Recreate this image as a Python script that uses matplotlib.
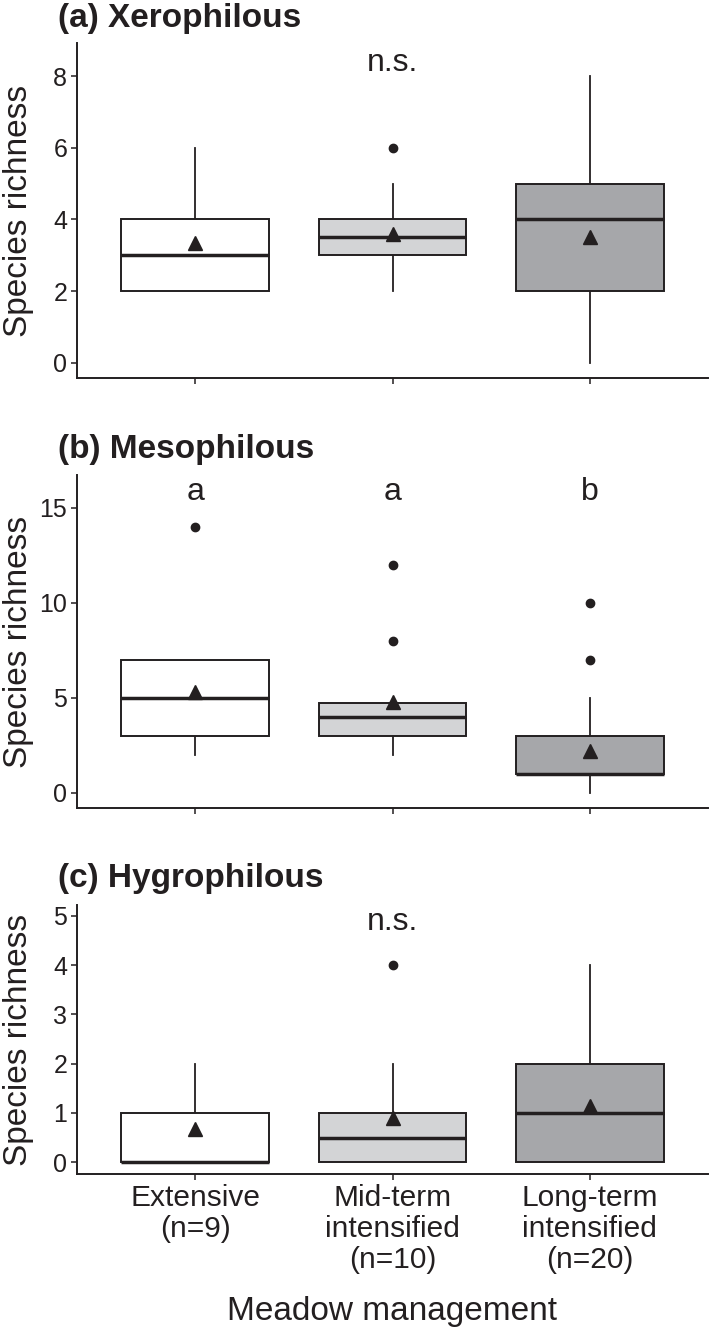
import matplotlib
matplotlib.use('Agg')
import matplotlib.pyplot as plt

plt.rcParams['font.family'] = ['Liberation Sans', 'DejaVu Sans']

# ---- data ----
categories = ['Extensive\n(n=9)', 'Mid-term\nintensified\n(n=10)', 'Long-term\nintensified\n(n=20)']
fills = ['white', '#d3d4d6', '#a6a7aa']

titles = ['(a) Xerophilous', '(b) Mesophilous', '(c) Hygrophilous']

xero_q1 = [2, 3, 2]
xero_med = [3, 3.5, 4]
xero_q3 = [4, 4, 5]
xero_lo = [2, 2, 0]
xero_hi = [6, 5, 8]
xero_mean = [3.33, 3.6, 3.5]
xero_out = [[], [6], []]
xero_letters = ['', 'n.s.', '']
xero_letter_y = 8.37

meso_q1 = [3, 3, 1]
meso_med = [5, 4, 1]
meso_q3 = [7, 4.75, 3]
meso_lo = [2, 2, 0]
meso_hi = [7, 4.75, 5]
meso_mean = [5.33, 4.8, 2.2]
meso_out = [[14], [12, 8], [10, 7]]
meso_letters = ['a', 'a', 'b']
meso_letter_y = 15.8

hygro_q1 = [0, 0, 0]
hygro_med = [0, 0.5, 1]
hygro_q3 = [1, 1, 2]
hygro_lo = [0, 0, 0]
hygro_hi = [2, 2, 4]
hygro_mean = [0.67, 0.9, 1.15]
hygro_out = [[], [4], []]
hygro_letters = ['', 'n.s.', '']
hygro_letter_y = 4.88

ylims = [(-0.43, 8.93), (-0.79, 16.72), (-0.24, 5.22)]
yticks = [[0, 2, 4, 6, 8], [0, 5, 10, 15], [0, 1, 2, 3, 4, 5]]

panels = [
    (xero_q1, xero_med, xero_q3, xero_lo, xero_hi, xero_mean, xero_out, xero_letters, xero_letter_y),
    (meso_q1, meso_med, meso_q3, meso_lo, meso_hi, meso_mean, meso_out, meso_letters, meso_letter_y),
    (hygro_q1, hygro_med, hygro_q3, hygro_lo, hygro_hi, hygro_mean, hygro_out, hygro_letters, hygro_letter_y),
]

ink = '#231f20'
W, H = 720, 1329

# axes boxes in pixels: (top, bottom)
ax_px = [(43, 378), (475, 808), (905, 1174)]
title_base = [27, 458, 887]
left_px, right_px = 77, 708

fig = plt.figure(figsize=(W / 100, H / 100), dpi=100)

for i, (q1, med, q3, lo, hi, mean, out, letters, letter_y) in enumerate(panels):
    top, bot = ax_px[i]
    ax = fig.add_axes([left_px / W, 1 - bot / H, (right_px - left_px) / W, (bot - top) / H])

    stats = []
    for k in range(3):
        stats.append({'q1': q1[k], 'med': med[k], 'q3': q3[k],
                      'whislo': lo[k], 'whishi': hi[k], 'fliers': out[k]})
    bp = ax.bxp(stats, positions=[1, 2, 3], widths=0.75, patch_artist=True,
                showcaps=False, showfliers=True,
                boxprops=dict(edgecolor=ink, linewidth=1.4),
                medianprops=dict(color=ink, linewidth=2.5, solid_capstyle='butt'),
                whiskerprops=dict(color=ink, linewidth=1.3),
                flierprops=dict(marker='o', markersize=6, markerfacecolor=ink,
                                markeredgecolor=ink, linestyle='none'))
    for patch, c in zip(bp['boxes'], fills):
        patch.set_facecolor(c)
    for w in bp['whiskers']:
        w.set_zorder(1)

    ax.plot([1, 2, 3], mean, linestyle='none', marker='^', markersize=10,
            color=ink, zorder=5)

    for k, t in enumerate(letters):
        if t:
            ax.text(k + 1, letter_y, t, ha='center', va='center', fontsize=23, color=ink)

    ax.set_xlim(0.4, 3.6)
    ax.set_ylim(*ylims[i])
    ax.set_yticks(yticks[i])
    ax.set_xticks([1, 2, 3])
    if i == 2:
        ax.set_xticklabels(categories, fontsize=21.5, color=ink, linespacing=1.12)
    else:
        ax.set_xticklabels([])

    for s in ['top', 'right']:
        ax.spines[s].set_visible(False)
    for s in ['left', 'bottom']:
        ax.spines[s].set_linewidth(1.4)
        ax.spines[s].set_color(ink)
    ax.tick_params(axis='both', length=4.5, width=1.1, color=ink, pad=2.5)
    ax.tick_params(axis='y', labelsize=18, labelcolor=ink)
    ax.tick_params(axis='x', pad=3)

    fig.text(19 / W, 1 - (top + bot) / 2 / H, 'Species richness', rotation=90,
             ha='center', va='center', fontsize=24, color=ink)
    fig.text(58 / W, 1 - title_base[i] / H, titles[i], ha='left', va='baseline',
             fontsize=24, fontweight='bold', color=ink)

fig.text((left_px + right_px) / 2 / W, 1 - 1320 / H, 'Meadow management',
         ha='center', va='baseline', fontsize=24, color=ink)

plt.savefig('out.png', dpi=100)
